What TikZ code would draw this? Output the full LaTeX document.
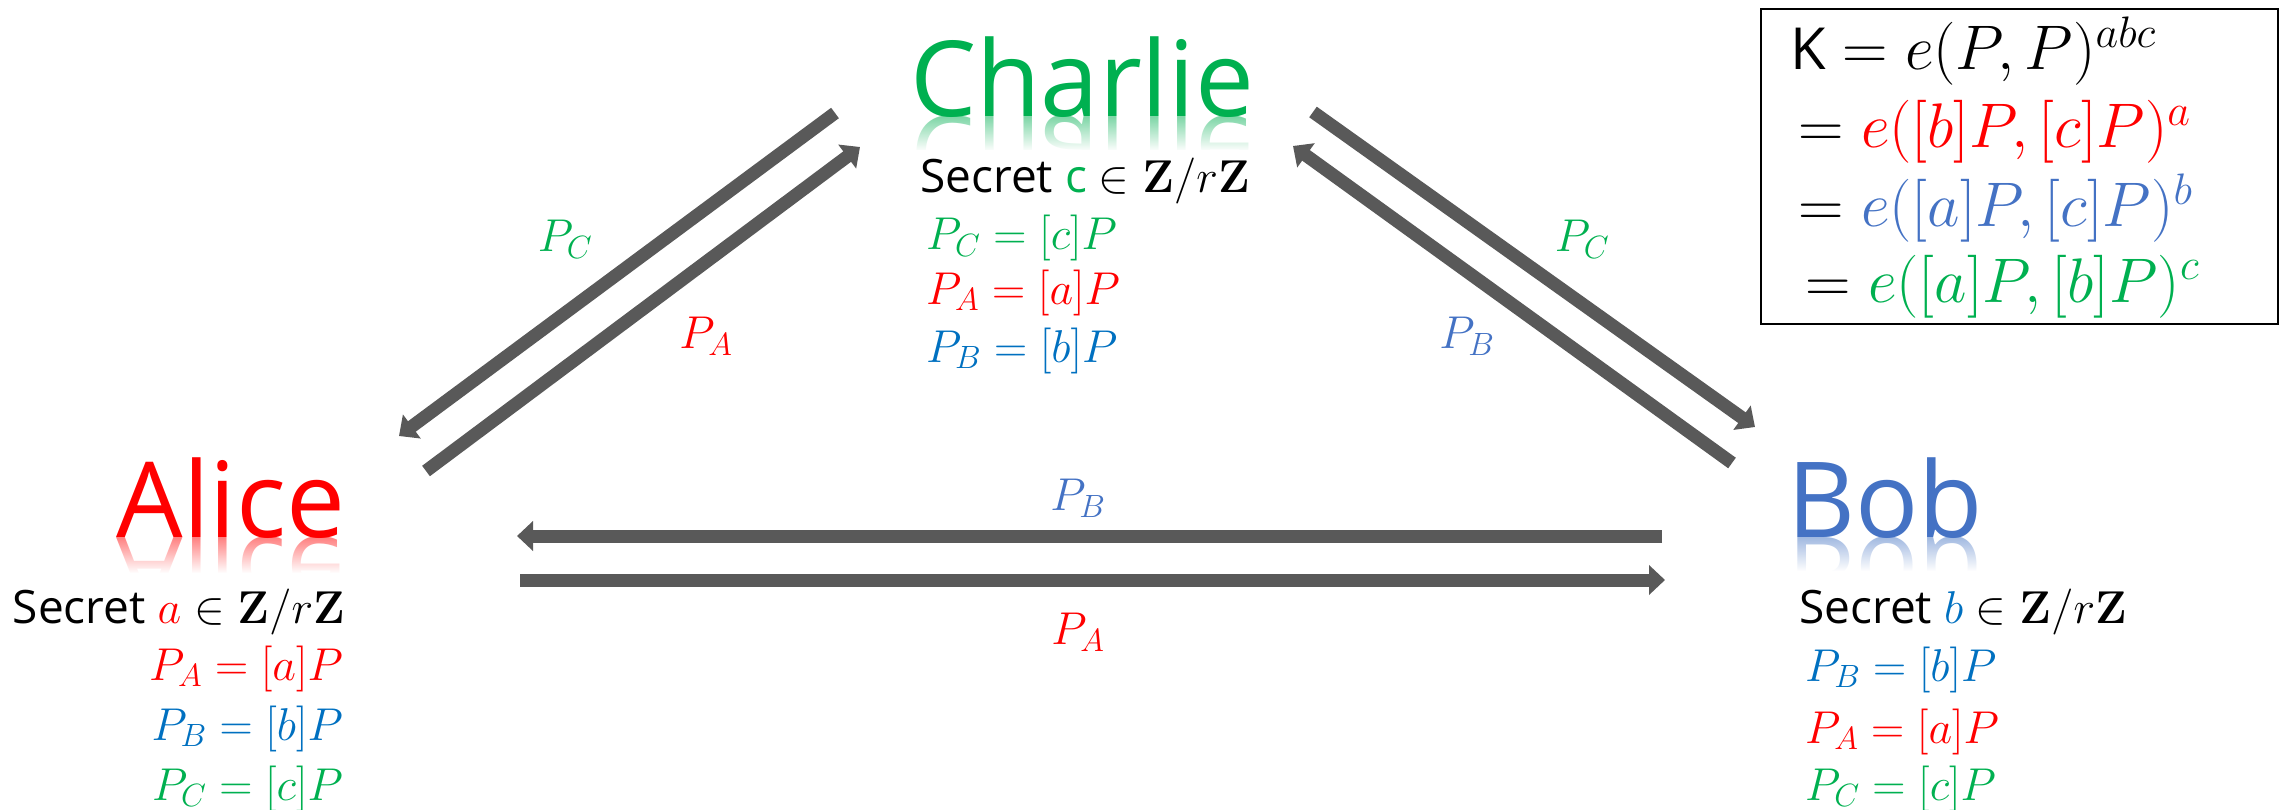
\RequirePackage{fix-cm}
\documentclass[tikz,border=0pt]{standalone}
\usepackage{amsmath}
\usepackage[no-math]{fontspec}
\setmainfont{Open Sans}
\usepackage{graphicx}
\usetikzlibrary{arrows.meta,fadings}
\definecolor{cR}{HTML}{FF0000}
\definecolor{cG}{HTML}{00B050}
\definecolor{cB}{HTML}{0070C0}
\definecolor{cL}{HTML}{4472C4}
\definecolor{arrowgray}{HTML}{595959}
\tikzfading[name=reflfade, top color=transparent!100, bottom color=transparent!0]
\tikzset{
  title/.style={font=\fontsize{105}{110}\selectfont, inner sep=0pt, anchor=base},
  body/.style={font=\fontsize{46}{50}\selectfont, inner sep=0pt},
  lbl/.style={font=\fontsize{46}{50}\selectfont, inner sep=0pt},
  boxt/.style={font=\fontsize{63}{66}\selectfont, inner sep=0pt, anchor=base west},
  flow/.style={draw=arrowgray, line width=13pt, -{Triangle[length=16pt,width=29pt]}},
  fadeband/.style={fill=white, path fading=reflfade},
}
\begin{document}
\begin{tikzpicture}[x=1pt,y=-1pt]
\useasboundingbox (0,0) rectangle (2285,810);

% ---------- reflections ----------
\begin{scope}
  \clip (100,537) rectangle (360,572);
  \node[title, text=cR!50] (alicerefl) at (231,537) {\scalebox{1}[-1]{Alice}};
\end{scope}
\fill[fadeband] (100,537) rectangle (360,573);
\begin{scope}
  \clip (900,117) rectangle (1260,150);
  \node[title, text=cG!50] (charlierefl) at (1082,117) {\scalebox{1}[-1]{Charlie}};
\end{scope}
\fill[fadeband] (900,117) rectangle (1260,151);
\begin{scope}
  \clip (1780,537) rectangle (1990,570);
  \node[title, text=cL!50] (bobrefl) at (1885,537) {\scalebox{1}[-1]{Bob}};
\end{scope}
\fill[fadeband] (1780,537) rectangle (1990,571);

% ---------- titles ----------
\node[title, text=cR] (alice) at (231,537) {Alice};
\node[title, text=cG] (charlie) at (1082,117) {Charlie};
\node[title, text=cL] (bob) at (1885,537) {Bob};

% ---------- Alice text ----------
\node[body, anchor=base east] (asec) at (345,623) {Secret $\textcolor{cR}{a}\in\mathbf{Z}/r\mathbf{Z}$};
\node[body, anchor=base east, text=cR] (apa) at (343,680) {$P_A=[a]P$};
\node[body, anchor=base east, text=cB] (apb) at (343,740) {$P_B=[b]P$};
\node[body, anchor=base east, text=cG] (apc) at (343,800) {$P_C=[c]P$};

% ---------- Charlie text ----------
\node[body, anchor=base west] (csec) at (920,193) {Secret \textcolor{cG}{c} $\in\mathbf{Z}/r\mathbf{Z}$};
\node[body, anchor=base west, text=cG] (cpc) at (926,250) {$P_C=[c]P$};
\node[body, anchor=base west, text=cR] (cpa) at (926,304) {$P_A=[a]P$};
\node[body, anchor=base west, text=cB] (cpb) at (926,362) {$P_B=[b]P$};

% ---------- Bob text ----------
\node[body, anchor=base west] (bsec) at (1799,623) {Secret $\textcolor{cB}{b}\in\mathbf{Z}/r\mathbf{Z}$};
\node[body, anchor=base west, text=cB] (bpb) at (1805,681) {$P_B=[b]P$};
\node[body, anchor=base west, text=cR] (bpa) at (1805,743) {$P_A=[a]P$};
\node[body, anchor=base west, text=cG] (bpc) at (1805,800) {$P_C=[c]P$};

% ---------- key box ----------
\node[draw, line width=2pt, inner sep=0pt, minimum width=517pt, minimum height=315pt, anchor=north west] (kbox) at (1760,8) {};
\node[boxt] (k1) at (1790,70) {{\fontsize{58}{62}\selectfont K} $=e(P,P)^{abc}$};
\node[boxt] (k2) at (1798,148) {$=\textcolor{cR}{e([b]P,[c]P)^{a}}$};
\node[boxt] (k3) at (1798,227) {$=\textcolor{cL}{e([a]P,[c]P)^{b}}$};
\node[boxt] (k4) at (1805,302) {$=\textcolor{cG}{e([a]P,[b]P)^{c}}$};

% ---------- arrow end points ----------
\coordinate (c1s) at (835,113);  \coordinate (c1e) at (399,436);
\coordinate (a1s) at (426,471);  \coordinate (a1e) at (860,147);
\coordinate (c2s) at (1313,112); \coordinate (c2e) at (1755,427);
\coordinate (b1s) at (1732,463); \coordinate (b1e) at (1293,146);
\coordinate (b2s) at (1662,536); \coordinate (b2e) at (517,536);
\coordinate (a2s) at (520,580);  \coordinate (a2e) at (1665,580);

\draw[flow] (c1s) -- (c1e);
\draw[flow] (a1s) -- (a1e);
\draw[flow] (c2s) -- (c2e);
\draw[flow] (b1s) -- (b1e);
\draw[flow] (b2s) -- (b2e);
\draw[flow] (a2s) -- (a2e);

% ---------- arrow labels ----------
\node[lbl, text=cG] (l1) at (565,239) {$P_C$};
\node[lbl, text=cR] (l2) at (706,336) {$P_A$};
\node[lbl, text=cG] (l3) at (1582,239) {$P_C$};
\node[lbl, text=cL] (l4) at (1467,336) {$P_B$};
\node[lbl, text=cL] (l5) at (1078,498) {$P_B$};
\node[lbl, text=cR] (l6) at (1078,632) {$P_A$};
\end{tikzpicture}
\end{document}
